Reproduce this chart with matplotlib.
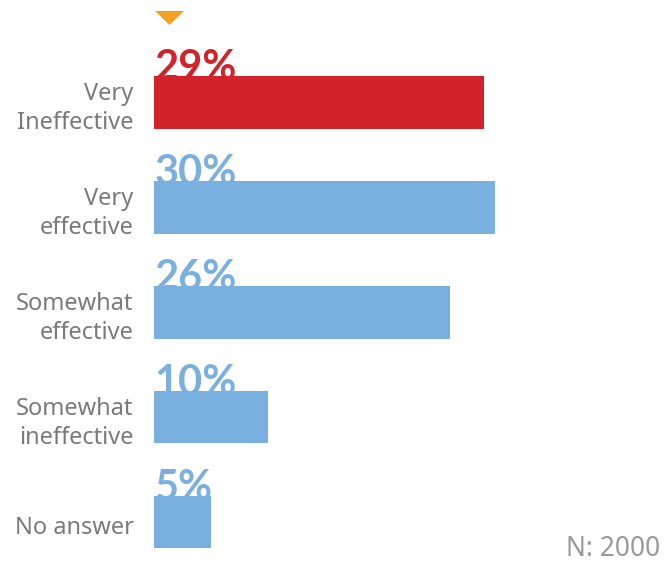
import matplotlib
matplotlib.use("Agg")
import matplotlib.pyplot as plt
from matplotlib.patches import Polygon

categories = ["Very\nIneffective", "Very\neffective", "Somewhat\neffective",
              "Somewhat\nineffective", "No answer"]
values = [29, 30, 26, 10, 5]
bar_colors = ["#D2232A", "#7AB0DF", "#7AB0DF", "#7AB0DF", "#7AB0DF"]
sample_note = "N: 2000"

W, H = 670, 563
fig = plt.figure(figsize=(W / 100, H / 100), dpi=100)
ax = fig.add_axes([154 / W, 0, 1 - 154 / W, 1])

ypos = list(range(len(values)))
ax.barh(ypos, values, height=0.5, color=bar_colors, zorder=3)

ax.set_xlim(0, 45.4)
ax.set_ylim(4.39, -0.977)
ax.axis("off")

for y, v, c in zip(ypos, values, bar_colors):
    ax.text(0.05, y - 0.21, f"{v}%", color=c, fontsize=30, fontweight="bold",
            family="Lato", ha="left", va="baseline", zorder=2)
    ax.text(-1.8, y + 0.06, categories[y], color="#7A7A7A", fontsize=17,
            family="Noto Sans", ha="right", va="center", multialignment="right",
            linespacing=1.3)

# orange marker above the highlighted bar
tri = Polygon([[155 / W, 1 - 11 / H], [184 / W, 1 - 11 / H], [169.5 / W, 1 - 25 / H]],
              closed=True, facecolor="#F5A01F", edgecolor="none",
              transform=fig.transFigure)
fig.patches.append(tri)

fig.text(660 / W, 1 - 549 / H, sample_note, color="#9A9A9A", fontsize=19,
         family="Noto Sans", ha="right", va="center")

fig.savefig("out.png", dpi=100)
